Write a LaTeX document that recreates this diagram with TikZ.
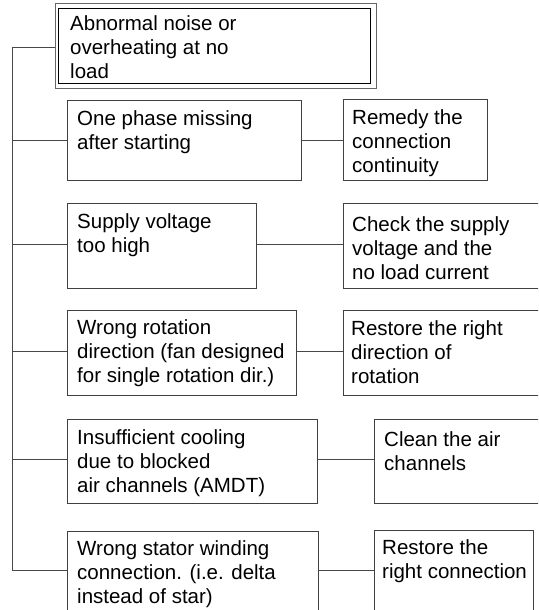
\documentclass[tikz,border=0pt]{standalone}
\usepackage{fontspec}
\setmainfont{Liberation Sans}
\begin{document}
\begin{tikzpicture}[x=1pt,y=-1pt,
  box/.style={draw=black!75, line width=0.9pt, rectangle, inner sep=0pt, outer sep=0pt, anchor=north west},
  txt/.style={anchor=north west, inner sep=0pt, align=left, font=\fontsize{20.5}{24}\selectfont},
  link/.style={draw=black!72, line width=0.9pt}]
\useasboundingbox (0,0) rectangle (538,610);
\clip (0,0) rectangle (538,610);
% top double box
\node[box, draw=black!60, minimum width=321pt, minimum height=85pt] (b1) at (55,3) {};
\node[box, draw=black, minimum width=312pt, minimum height=75pt] (b1i) at (58,8) {};
\node[txt] (t1) at (70,13.5) {\strut Abnormal noise or\\overheating at no\\load};
% left column
\node[box, minimum width=234pt, minimum height=80pt] (b2) at (67,100) {};
\node[txt] (t2) at (77,108) {\strut One phase missing\\after starting};
\node[box, minimum width=189pt, minimum height=85pt] (b3) at (67,203) {};
\node[txt] (t3) at (77,211.5) {\strut Supply voltage\\too high};
\node[box, minimum width=229pt, minimum height=85pt] (b4) at (67,310) {};
\node[txt] (t4) at (77,317.5) {\strut Wrong rotation\\direction (fan designed\\for single rotation dir.)};
\node[box, minimum width=250pt, minimum height=84pt] (b5) at (67,419) {};
\node[txt] (t5) at (77,427.5) {\strut Insufficient cooling\\due to blocked\\air channels (AMDT)};
\node[box, minimum width=251pt, minimum height=90pt] (b6) at (67,531) {};
\node[txt] (t6) at (77,538) {\strut Wrong stator winding\\connection. (i.e. delta\\instead of star)};
% right column
\node[box, minimum width=144pt, minimum height=81pt] (c2) at (343,99) {};
\node[txt] (u2) at (352,107) {\strut Remedy the\\connection\\continuity};
\node[box, minimum width=220pt, minimum height=85pt] (c3) at (343,203) {};
\node[txt] (u3) at (352,214.5) {\strut Check the supply\\voltage and the\\no load current};
\node[box, minimum width=220pt, minimum height=85pt] (c4) at (343,310) {};
\node[txt] (u4) at (351,318.5) {\strut Restore the right\\direction of\\rotation};
\node[box, minimum width=190pt, minimum height=84pt] (c5) at (374,419) {};
\node[txt] (u5) at (384,429) {\strut Clean the air\\channels};
\node[box, minimum width=159pt, minimum height=90pt] (c6) at (374,530) {};
\node[txt] (u6) at (382,537) {\strut Restore the\\right connection};
% trunk and branches
\coordinate (j1) at (12,47);
\coordinate (j2) at (12,140);
\coordinate (j3) at (12,244);
\coordinate (j4) at (12,351);
\coordinate (j5) at (12,459);
\coordinate (j6) at (12,570.5);
\draw[link] (j1) -- (j6);
\draw[link] (j1) -- (b1.west |- j1);
\draw[link] (j2) -- (b2.west |- j2);
\draw[link] (j3) -- (b3.west |- j3);
\draw[link] (j4) -- (b4.west |- j4);
\draw[link] (j5) -- (b5.west |- j5);
\draw[link] (j6) -- (b6.west |- j6);
\draw[link] (b2.east |- j2) -- (c2.west |- j2);
\draw[link] (b3.east |- j3) -- (c3.west |- j3);
\draw[link] (b4.east |- j4) -- (c4.west |- j4);
\draw[link] (b5.east |- j5) -- (c5.west |- j5);
\draw[link] (b6.east |- j6) -- (c6.west |- j6);
\end{tikzpicture}
\end{document}
